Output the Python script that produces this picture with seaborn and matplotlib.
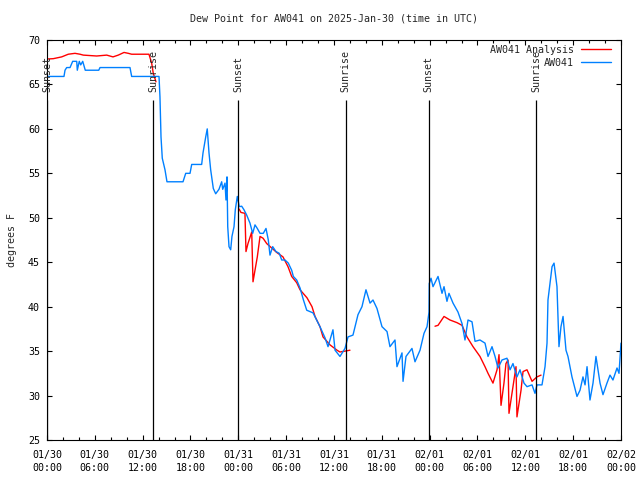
import pandas as pd
import matplotlib
matplotlib.use("Agg")
import matplotlib.pyplot as plt
import matplotlib.dates as mdates
from matplotlib.lines import Line2D
import seaborn as sns

start = pd.Timestamp("2025-01-30 00:00")

# observed dew point (AW041), hours since 01/30 00:00 UTC
obs_hours = [0.0, 2.13, 2.26, 2.47, 2.89, 3.22, 3.73, 3.8, 4.05, 4.23, 4.48, 4.8, 6.49, 6.65,
             10.41, 10.62, 14.05, 14.17, 14.3, 14.46, 14.8, 15.05, 17.06, 17.4, 17.94, 18.15,
             19.4, 19.57, 19.91, 20.1, 20.32, 20.53, 20.86, 21.16, 21.57, 21.91, 22.04, 22.33,
             22.45, 22.58, 22.67, 22.83, 23.04, 23.2, 23.46, 23.62, 23.87, 24.12, 24.42, 24.71,
             25.05, 25.46, 25.8, 26.09, 26.38, 26.72, 27.13, 27.47, 27.76, 27.97, 28.31, 28.72,
             29.14, 29.44, 29.85, 30.27, 30.69, 30.9, 31.32, 31.74, 32.15, 32.58, 33.37, 34.24,
             34.87, 35.25, 35.87, 36.13, 36.75, 37.38, 37.76, 38.38, 39.01, 39.51, 40.01, 40.52,
             40.89, 41.39, 42.02, 42.65, 43.02, 43.65, 43.9, 44.53, 44.66, 45.03, 45.78, 46.16,
             46.79, 47.29, 47.67, 47.92, 47.95, 48.17, 48.42, 49.05, 49.55, 49.8, 50.17, 50.42,
             50.93, 51.55, 52.06, 52.43, 52.81, 53.31, 53.69, 54.31, 54.94, 55.32, 55.82, 56.2,
             56.57, 57.07, 57.7, 58.08, 58.45, 58.95, 59.33, 59.83, 60.21, 60.84, 61.21, 61.46,
             62.09, 62.47, 62.72, 62.84, 63.35, 63.6, 63.97, 64.22, 64.47, 64.73, 65.1, 65.35,
             65.85, 66.48, 66.86, 67.23, 67.49, 67.74, 68.11, 68.49, 68.86, 69.37, 69.74, 70.24,
             70.62, 70.99, 71.5, 71.75, 72.0]
obs_dewpt = [65.9, 65.9, 66.6, 66.9, 66.9, 67.6, 67.6, 66.6, 67.6, 67.2, 67.6, 66.6, 66.6, 66.9,
             66.9, 65.9, 65.9, 63.6, 59.1, 56.7, 55.4, 54.05, 54.05, 55.0, 55.0, 56.0,
             56.0, 57.3, 59.1, 60.0, 57.3, 55.4, 53.3, 52.7, 53.2, 54.05, 53.2, 53.9,
             52.0, 54.6, 49.0, 46.75, 46.4, 47.9, 49.0, 50.9, 52.4, 51.25, 51.3, 50.9,
             50.3, 49.4, 48.25, 49.2, 48.8, 48.25, 48.25, 48.8, 47.5, 45.8, 46.75, 46.2,
             46.0, 45.25, 45.25, 44.9, 44.1, 43.4, 43.0, 42.1, 40.8, 39.6, 39.3, 37.75,
             36.5, 35.5, 37.4, 35.1, 34.4, 35.3, 36.6, 36.8, 39.1, 40.0, 41.9, 40.4,
             40.75, 39.8, 37.75, 37.2, 35.5, 36.25, 33.25, 34.8, 31.6, 34.4, 35.3, 33.8,
             35.1, 37.0, 37.75, 39.4, 42.6, 43.2, 42.25, 43.4, 41.5, 42.25, 40.6, 41.5,
             40.4, 39.4, 38.1, 36.25, 38.5, 38.3, 36.1, 36.25, 35.9, 34.4, 35.5, 34.4,
             33.1, 34.0, 34.2, 32.9, 33.6, 32.1, 32.9, 31.4, 31.0, 31.2, 30.25, 31.2,
             31.2, 33.25, 35.9, 40.75, 44.5, 44.9, 42.25, 35.5, 37.75, 38.9, 35.1, 34.4,
             32.1, 29.9, 30.6, 32.1, 31.2, 33.25, 29.5, 31.4, 34.4, 31.4, 30.1, 31.4,
             32.3, 31.75, 33.1, 32.5, 35.9]

# analysis dew point, three separate runs (gaps in between)
ana_hours_1 = [0.0, 0.79, 1.84, 2.67, 3.51, 4.14, 4.55, 6.23, 7.49, 8.28, 8.94, 9.66, 10.2,
               10.62, 12.79, 13.13, 13.33, 13.67]
ana_dewpt_1 = [67.86, 67.9, 68.1, 68.4, 68.5, 68.4, 68.3, 68.2, 68.3, 68.1, 68.3, 68.6, 68.5,
               68.4, 68.4, 67.4, 66.25, 65.3]
ana_hours_2 = [24.08, 24.33, 24.83, 24.96, 25.21, 25.68, 25.84, 26.09, 26.38, 26.72, 27.1,
               27.56, 28.19, 28.81, 29.6, 30.23, 30.69, 31.32, 31.74, 32.61, 33.24, 33.62,
               34.24, 34.62, 35.5, 36.38, 36.75, 38.0]
ana_dewpt_2 = [51.0, 50.6, 50.5, 46.2, 47.1, 48.4, 42.8, 44.1, 45.6, 47.9, 47.7,
               47.1, 46.6, 46.1, 45.6, 44.5, 43.4, 42.7, 41.9, 41.0, 40.0, 38.9,
               37.75, 36.6, 35.7, 35.1, 34.9, 35.1]
ana_hours_3 = [48.67, 49.05, 49.8, 50.55, 51.43, 52.06, 52.68, 53.44, 54.31, 54.94, 55.32,
               55.94, 56.45, 56.7, 56.95, 57.32, 57.57, 57.83, 57.95, 58.45, 58.83, 58.95,
               59.46, 59.71, 60.21, 60.84, 61.46, 61.97]
ana_dewpt_3 = [37.8, 37.9, 38.9, 38.5, 38.2, 37.9, 36.6, 35.5, 34.4, 33.25, 32.5,
               31.4, 32.9, 34.6, 28.9, 31.4, 33.6, 34.0, 28.0, 31.0, 33.25, 27.6,
               30.6, 32.7, 32.9, 31.6, 32.1, 32.3]

events = ["Sunset", "Sunrise", "Sunset", "Sunrise", "Sunset", "Sunrise"]
event_hours = [0.0, 13.3, 23.98, 37.45, 47.9, 61.35]

series_names = ["AW041 Analysis", "AW041"]
colors = {"AW041 Analysis": "#ff0000", "AW041": "#0080ff"}

frames = []
for seg, (h, v) in enumerate([(ana_hours_1, ana_dewpt_1), (ana_hours_2, ana_dewpt_2),
                              (ana_hours_3, ana_dewpt_3)]):
    frames.append(pd.DataFrame({"hours": h, "dewpt": v, "series": "AW041 Analysis", "segment": seg}))
frames.append(pd.DataFrame({"hours": obs_hours, "dewpt": obs_dewpt, "series": "AW041", "segment": 0}))
df = pd.concat(frames, ignore_index=True)
df["time"] = start + pd.to_timedelta(df["hours"], unit="h")

sns.set_style("ticks")
plt.rcParams["font.family"] = ["DejaVu Sans Mono"]
plt.rcParams["font.size"] = 7.2

fig = plt.figure(figsize=(6.4, 4.8), dpi=100)
ax = fig.add_axes([47 / 640, 40 / 480, 574 / 640, 400 / 480])

sns.lineplot(data=df, x="time", y="dewpt", hue="series", hue_order=series_names,
             units="segment", estimator=None, sort=False, palette=colors,
             linewidth=1.0, legend=False, ax=ax)

# sunrise / sunset markers
for name, h in zip(events, event_hours):
    t = start + pd.Timedelta(hours=h)
    ax.vlines(t, 25, 63.3, color="black", linewidth=0.9)
    ax.text(t, 64.1, name, rotation=90, ha="center", va="bottom", fontsize=7.2)

ax.set_xlim(start, start + pd.Timedelta(hours=72))
ax.set_ylim(25, 70)
ax.set_yticks(range(25, 71, 5))
ax.xaxis.set_major_locator(mdates.HourLocator(byhour=[0, 6, 12, 18]))
ax.xaxis.set_minor_locator(mdates.HourLocator(interval=2))
ax.xaxis.set_major_formatter(mdates.DateFormatter("%m/%d\n%H:%M"))

ax.tick_params(which="both", direction="in", top=True, right=True, width=0.8,
               labelsize=7.2, colors="black")
ax.tick_params(which="major", length=3.5, pad=5)
ax.tick_params(axis="x", which="major", pad=7)
ax.tick_params(which="minor", length=2)
for s in ax.spines.values():
    s.set_linewidth(0.8)
    s.set_color("black")

ax.set_title("Dew Point for AW041 on 2025-Jan-30 (time in UTC)", fontsize=7.2, pad=13)
ax.set_xlabel("")
ax.set_ylabel("degrees F", fontsize=7.2, labelpad=8)

handles = [Line2D([], [], color=colors[n], linewidth=1.0) for n in series_names]
ax.legend(handles, series_names, loc="upper right", bbox_to_anchor=(0.998, 1.01),
          frameon=False, markerfirst=False, handlelength=3.0, handletextpad=0.7,
          labelspacing=0.28, fontsize=7.2)

fig.canvas.draw()
for lbl in ax.get_xticklabels():
    lbl.set_linespacing(1.45)

fig.savefig("out.png", dpi=100)
